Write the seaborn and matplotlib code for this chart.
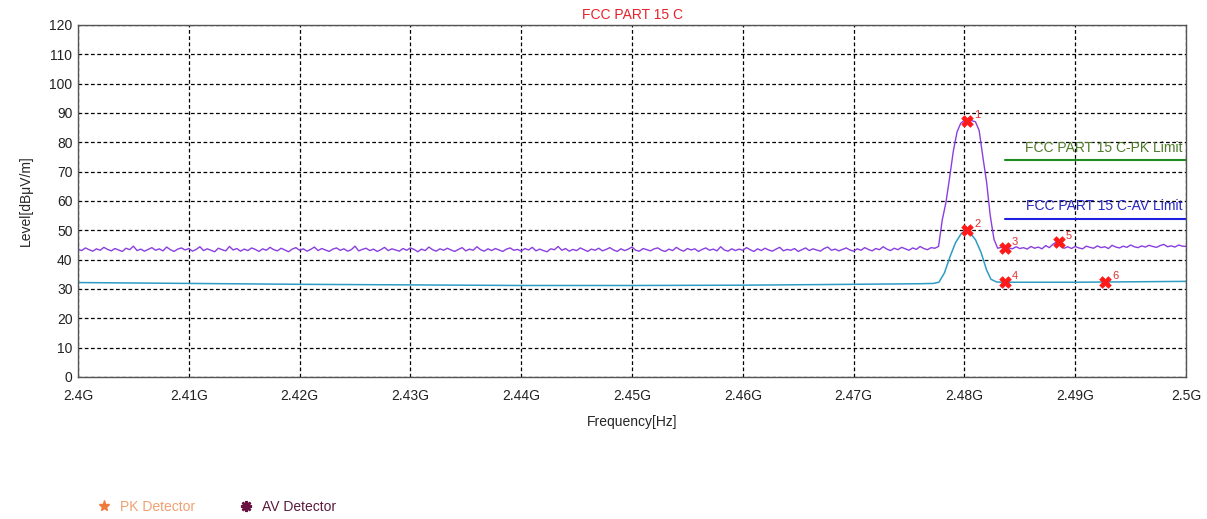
import numpy as np
import pandas as pd
import matplotlib
matplotlib.use("Agg")
import matplotlib.pyplot as plt
from matplotlib import ticker
from matplotlib.lines import Line2D
import seaborn as sns

# sweep 2.4 GHz - 2.5 GHz, peak detector trace (dBuV/m)
f_start = 2.40e9
f_stop = 2.50e9
pk_level = [
    43.6, 43.1, 44.0, 43.4, 42.9, 43.7, 43.2, 44.2, 43.5, 43.0, 43.8, 43.3, 42.8, 43.9, 43.4, 44.6, 43.1, 43.6, 42.9, 43.5,
    44.1, 43.2, 43.7, 43.0, 44.3, 43.4, 42.8, 43.6, 44.0, 43.3, 43.8, 42.9, 43.5, 44.4, 43.1, 43.7, 43.2, 42.7, 43.9, 43.4,
    43.0, 44.5, 43.3, 43.8, 42.9, 43.6, 43.1, 44.0, 43.5, 42.8, 43.7, 43.2, 44.2, 43.4, 43.0, 43.9, 43.3, 42.7, 43.6, 44.1,
    43.2, 43.7, 42.9, 43.5, 44.3, 43.1, 43.8, 43.3, 42.8, 43.6, 44.0, 43.2, 43.7, 42.9, 43.4, 44.6, 43.0, 43.5, 43.9, 43.1,
    43.6, 42.8, 43.4, 44.2, 43.1, 43.7, 43.3, 42.9, 43.8, 43.2, 44.0, 43.5, 42.7, 43.6, 43.1, 44.3, 43.4, 42.9, 43.7, 43.2,
    43.9, 43.3, 42.8, 43.5, 44.1, 43.0, 43.6, 43.2, 44.4, 43.4, 42.9, 43.7, 43.1, 43.8, 43.3, 42.8, 43.6, 44.0, 43.2, 43.5,
    42.9, 43.8, 43.3, 44.2, 43.0, 43.6, 43.1, 42.7, 43.7, 43.4, 44.5, 43.2, 43.8, 42.9, 43.5, 43.1, 44.0, 43.4, 42.8, 43.6,
    43.2, 43.9, 43.0, 43.5, 44.1, 43.3, 42.8, 43.7, 43.1, 43.6, 44.3, 43.2, 42.9, 43.8, 43.4, 43.0, 43.7, 44.0, 43.2, 42.8,
    43.6, 43.1, 44.2, 43.4, 42.9, 43.8, 43.3, 43.7, 42.8, 43.5, 44.0, 43.2, 43.6, 43.0, 44.4, 43.3, 42.9, 43.7, 43.1, 43.6,
    43.2, 44.1, 43.4, 42.8, 43.7, 43.1, 43.9, 43.3, 42.9, 43.6, 44.2, 43.0, 43.5, 43.2, 43.8, 42.8, 43.4, 44.0, 43.1, 43.7,
    43.3, 42.9, 43.8, 44.3, 43.2, 43.6, 43.0, 43.5, 44.0, 43.3, 42.9, 43.7, 43.2, 44.1, 43.5, 43.0, 43.8, 43.4, 44.4, 43.6,
    43.1, 43.9, 43.4, 44.2, 43.7, 43.2, 44.0, 43.5, 44.5, 43.8, 43.4, 44.1, 43.9,
    44.5, 53.5, 59.5, 68.0, 77.0, 83.5, 86.5, 87.5, 87.6, 87.4, 87.0, 84.0, 75.0, 66.5, 55.0, 47.0,
    43.9, 44.2, 43.5, 44.0, 43.7, 44.4, 43.8, 44.1, 43.6, 44.5,
    43.9, 44.3, 43.7, 44.8, 44.1, 45.3, 46.0, 44.6, 43.9, 44.4,
    43.8, 44.5, 44.0, 43.7, 44.6, 44.2, 43.9, 44.7, 44.1, 44.4,
    43.8, 44.9, 44.3, 44.0, 44.6, 44.2, 45.0, 44.4, 44.1, 44.7,
    44.3, 44.9, 44.5, 44.2, 44.8, 45.2, 44.4, 44.7, 44.3, 45.0,
    44.6, 44.5,
]

# average detector trace (GHz, dBuV/m)
av_freq = [2.400, 2.410, 2.420, 2.430, 2.440, 2.450, 2.460, 2.470, 2.476, 2.4772,
           2.4777, 2.4782, 2.4787, 2.4792, 2.4797, 2.4801, 2.4805, 2.4810, 2.4815, 2.4820,
           2.4824, 2.4829, 2.4834, 2.490, 2.500]
av_level = [32.2, 31.9, 31.6, 31.4, 31.2, 31.2, 31.3, 31.6, 31.8, 31.9,
            32.3, 35.5, 41.0, 45.8, 48.8, 50.0, 49.2, 46.8, 42.5, 36.5,
            33.3, 32.4, 32.3, 32.3, 32.6]

# markers
mk_id = ["1", "2", "3", "4", "5", "6"]
mk_freq = [2.48026, 2.48026, 2.48367, 2.48367, 2.48854, 2.49269]
mk_level = [87.2, 50.2, 44.0, 32.4, 46.1, 32.4]

# limit lines
pk_limit = 74.0
av_limit = 54.0
limit_start = 2.48367
limit_names = ["FCC PART 15 C-PK Limit", "FCC PART 15 C-AV Limit"]

sns.set_style("white")
plt.rcParams['font.family'] = ['Liberation Sans', 'DejaVu Sans']

pk_df = pd.DataFrame({"freq": np.linspace(f_start, f_stop, len(pk_level)), "level": pk_level})
av_df = pd.DataFrame({"freq": np.array(av_freq) * 1e9, "level": av_level})
mk_df = pd.DataFrame({"freq": np.array(mk_freq) * 1e9, "level": mk_level, "id": mk_id})

fig = plt.figure(figsize=(12.07, 5.19), dpi=100)
ax = fig.add_axes([78 / 1207, 1 - 377 / 519, (1186 - 78) / 1207, (377 - 25) / 519])

sns.lineplot(data=av_df, x="freq", y="level", ax=ax, color="#2f9cc4", linewidth=1.1)
sns.lineplot(data=pk_df, x="freq", y="level", ax=ax, color="#8a3ee0", linewidth=1.0)

ax.plot([limit_start * 1e9, f_stop], [pk_limit, pk_limit], color="#1e8c1e", lw=1.5)
ax.plot([limit_start * 1e9, f_stop], [av_limit, av_limit], color="#2020e0", lw=1.5)
ax.text(f_stop - 0.0003e9, pk_limit + 1.8, limit_names[0], color="#4f7a2a", fontsize=10,
        ha="right", va="bottom")
ax.text(f_stop - 0.0003e9, av_limit + 1.8, limit_names[1], color="#2828c8", fontsize=10,
        ha="right", va="bottom")

sns.scatterplot(data=mk_df, x="freq", y="level", ax=ax, marker="X", s=70,
                color="#ff1a1a", edgecolor="#ff1a1a", linewidth=0.5, zorder=5)
for _, r in mk_df.iterrows():
    ax.annotate(r["id"], (r["freq"], r["level"]), xytext=(5, 2), textcoords="offset points",
                color="#e03030", fontsize=8)

ax.set_xlim(f_start, f_stop)
ax.set_ylim(0, 120)
ax.xaxis.set_major_locator(ticker.MultipleLocator(0.01e9))
ax.yaxis.set_major_locator(ticker.MultipleLocator(10))
ax.xaxis.set_major_formatter(ticker.FuncFormatter(lambda v, p: f"{v / 1e9:g}G"))
ax.grid(True, color="black", linestyle=(0, (3, 2)), linewidth=0.9)
ax.tick_params(length=0, labelsize=10, colors="#222222", pad=4)
ax.tick_params(axis="x", pad=9)
for s in ax.spines.values():
    s.set_color("#555555")
    s.set_linewidth(1.0)

ax.set_xlabel("Frequency[Hz]", fontsize=10, labelpad=8)
ax.set_ylabel("Level[dBμV/m]", fontsize=10, labelpad=12)
ax.set_title("FCC PART 15 C", color="#e8202a", fontsize=10, pad=4)

handles = [
    Line2D([], [], ls="none", marker="*", color="#f07a3a", markersize=8),
    Line2D([], [], ls="none", marker=(8, 2, 0), color="#6a1040", markersize=8, markeredgewidth=1.8),
]
fig.legend(handles, ["PK Detector", "AV Detector"], loc="center left",
           bbox_to_anchor=(83 / 1207, 1 - 507 / 519), ncol=2, frameon=False,
           fontsize=10, labelcolor=["#f0a070", "#5a1a3a"], columnspacing=3.0,
           handlelength=1.2, handletextpad=0.6)

fig.savefig("out.png", dpi=100)
